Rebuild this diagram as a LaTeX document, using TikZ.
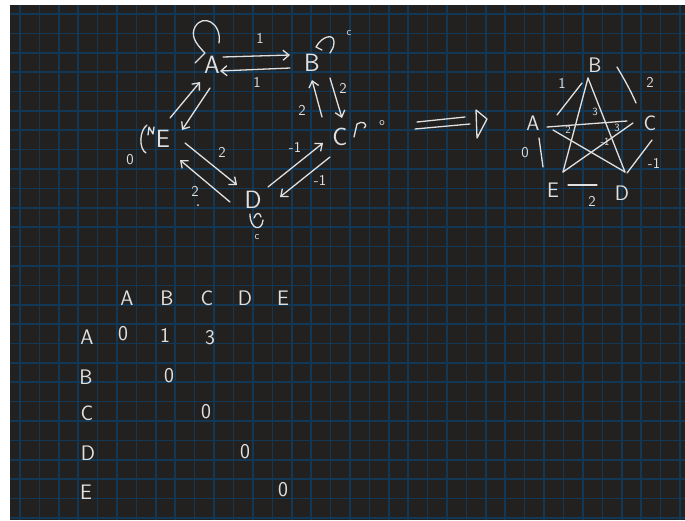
\documentclass[tikz,border=0pt]{standalone}
\usetikzlibrary{arrows.meta,calc}
\definecolor{bg}{RGB}{35,33,32}
\definecolor{gridc}{RGB}{18,56,86}
\definecolor{ink}{RGB}{224,224,224}
\begin{document}
\begin{tikzpicture}[x=1pt,y=-1pt,
  big/.style={text=ink,font=\sffamily\fontsize{25}{25}\selectfont,inner sep=0pt},
  mid/.style={text=ink,font=\sffamily\fontsize{21}{21}\selectfont,inner sep=0pt},
  wt/.style={text=ink,font=\sffamily\fontsize{15}{15}\selectfont,inner sep=0pt},
  tiny/.style={text=ink,font=\sffamily\fontsize{11}{11}\selectfont,inner sep=0pt},
  stroke/.style={draw=ink,line width=1.3pt,line cap=round,line join=round},
  arr/.style={stroke,-{Straight Barb[length=6pt,width=10pt,line width=1.3pt]}},
  gridline/.style={draw=gridc,line width=1.6pt}]
\useasboundingbox (0,0) rectangle (685,520);
\fill[white] (0,0) rectangle (685,520);
\fill[bg] (10,5) rectangle (685,520);
\begin{scope}
\clip (10,5) rectangle (685,520);
\foreach \k in {0,...,34} \draw[gridline] ({20+19.41*\k},5) -- ({20+19.41*\k},520);
\foreach \k in {0,...,26} \draw[gridline] (10,{14+19.38*\k}) -- (685,{14+19.38*\k});
\end{scope}

% ---- left graph nodes
\node[big] (A) at (212,65) {A};
\node[big] (B) at (312,63) {B};
\node[big] (C) at (340,137) {C};
\node[big] (D) at (253,200) {D};
\node[big] (E) at (163,139) {E};

% arrows
\draw[arr] ($(A)+(11,-8)$) -- ($(B)+(-22,-8)$);
\draw[arr] ($(B)+(-22,5)$) -- ($(A)+(8,6)$);
\draw[arr] ($(C)+(-18,-20)$) -- ($(B)+(0,17)$);
\draw[arr] ($(B)+(18,15)$) -- ($(C)+(2,-19)$);
\draw[arr] ($(E)+(7,-21)$) -- ($(A)+(-12,17)$);
\draw[arr] ($(A)+(-2,23)$) -- ($(E)+(19,-9)$);
\draw[arr] ($(E)+(22,4)$) -- ($(D)+(-16,-15)$);
\draw[arr] ($(D)+(-23,2)$) -- ($(E)+(17,21)$);
\draw[arr] ($(D)+(15,-13)$) -- ($(C)+(-17,6)$);
\draw[arr] ($(C)+(-10,20)$) -- ($(D)+(27,-3)$);

% weights
\node[wt] (w1) at (260,38) {1};
\node[wt] (w2) at (257,82) {1};
\node[wt] (w3) at (302,110) {2};
\node[wt] (w4) at (343,88) {2};
\node[wt] (w5) at (222,152) {2};
\node[wt] (w6) at (195,191) {2};
\fill[ink] (198,205) circle (1pt);
\node[wt] (w7) at (295,147) {-1};
\node[wt] (w8) at (320,180) {-1};
\node[wt] (w9) at (130,160) {0};
\node[tiny] (cB) at (349,33) {c};
\node[tiny] (cC) at (382,123) {o};
\node[tiny] (cD) at (257,237) {c};

% self loops
\draw[stroke] ($(A)+(7,-22)$) .. controls ($(A)+(10,-42)$) and ($(A)+(-9,-52)$) .. ($(A)+(-17,-38)$) .. controls ($(A)+(-21,-30)$) and ($(A)+(-18,-23)$) .. ($(A)+(-7,-12)$) -- ($(A)+(-17,-2)$);
\draw[stroke] ($(B)+(10,-13)$) -- ($(B)+(4,-16)$) .. controls ($(B)+(10,-27)$) and ($(B)+(22,-30)$) .. ($(B)+(22,-21)$) .. controls ($(B)+(22,-16)$) and ($(B)+(20,-13)$) .. ($(B)+(18,-10)$);
\draw[stroke] ($(C)+(14,0)$) -- ($(C)+(17,-13)$) .. controls ($(C)+(22,-17)$) and ($(C)+(29,-13)$) .. ($(C)+(24,-9)$);
\draw[stroke] ($(D)+(-3,14)$) .. controls ($(D)+(-3,30)$) and ($(D)+(9,32)$) .. ($(D)+(10,20)$);
\draw[stroke] ($(D)+(1,18)$) .. controls ($(D)+(3,12)$) and ($(D)+(7,12)$) .. ($(D)+(8,17)$);
\draw[stroke] ($(E)+(-16,-14)$) .. controls ($(E)+(-24,-8)$) and ($(E)+(-24,10)$) .. ($(E)+(-17,14)$);
\draw[stroke] ($(E)+(-15,-4)$) -- ($(E)+(-14,-12)$) -- ($(E)+(-10,-5)$) -- ($(E)+(-9,-12)$);

% ---- implication arrow
\coordinate (i1) at (417,122);
\coordinate (i2) at (465,117);
\coordinate (i3) at (415,129);
\coordinate (i4) at (470,124);
\coordinate (h1) at (476,110);
\coordinate (h2) at (487,119);
\coordinate (h3) at (477,138);
\draw[stroke] (i1) -- (i2);
\draw[stroke] (i3) -- (i4);
\draw[stroke] (h1) -- (h2) -- (h3) -- cycle;

% ---- star graph
\node[mid] (sA) at (533,123) {A};
\node[mid] (sB) at (595,65) {B};
\node[mid] (sC) at (650,123) {C};
\node[mid] (sD) at (622,193) {D};
\node[mid] (sE) at (553,190) {E};
\draw[stroke] ($(sB)+(-7,13)$) -- ($(sE)+(10,-18)$);
\draw[stroke] ($(sB)+(-7,13)$) -- ($(sD)+(3,-21)$);
\draw[stroke] ($(sA)+(14,4)$) -- ($(sC)+(-23,-2)$);
\draw[stroke] ($(sA)+(20,7)$) -- ($(sD)+(3,-21)$);
\draw[stroke] ($(sE)+(10,-18)$) -- ($(sC)+(-17,0)$);
\draw[stroke] ($(sA)+(24,-8)$) -- ($(sB)+(-13,18)$);
\draw[stroke] ($(sB)+(22,2)$) .. controls ($(sB)+(28,12)$) and ($(sB)+(36,26)$) .. ($(sB)+(41,38)$);
\draw[stroke] ($(sC)+(2,17)$) -- ($(sD)+(5,-20)$);
\draw[stroke] ($(sE)+(15,-5)$) -- ($(sD)+(-25,-8)$);
\draw[stroke] ($(sA)+(6,15)$) -- ($(sA)+(10,44)$);
\node[wt] (s1) at (562,83) {1};
\node[wt] (s2) at (650,82) {2};
\node[wt] (s3) at (654,163) {-1};
\node[wt] (s4) at (592,201) {2};
\node[wt] (s5) at (525,153) {0};
\node[tiny] (s6) at (595,112) {3};
\node[tiny] (s7) at (568,130) {2};
\node[tiny] (s8) at (617,128) {3};
\node[tiny] (s9) at (605,142) {-1};

% ---- matrix
\node[mid] (hA) at (127,298) {A};
\node[mid] (hB) at (167,298) {B};
\node[mid] (hC) at (207,298) {C};
\node[mid] (hD) at (245,298) {D};
\node[mid] (hE) at (283,298) {E};
\node[mid] (rA) at (87,337) {A};
\node[mid] (rB) at (86,377) {B};
\node[mid] (rC) at (87,413) {C};
\node[mid] (rD) at (88,453) {D};
\node[mid] (rE) at (86,492) {E};
\node[mid] (mAA) at (123,334) {0};
\node[mid] (mAB) at (165,335) {1};
\node[mid] (mAC) at (210,338) {3};
\node[mid] (mBB) at (169,376) {0};
\node[mid] (mCC) at (206,412) {0};
\node[mid] (mDD) at (245,452) {0};
\node[mid] (mEE) at (283,490) {0};
\end{tikzpicture}
\end{document}
